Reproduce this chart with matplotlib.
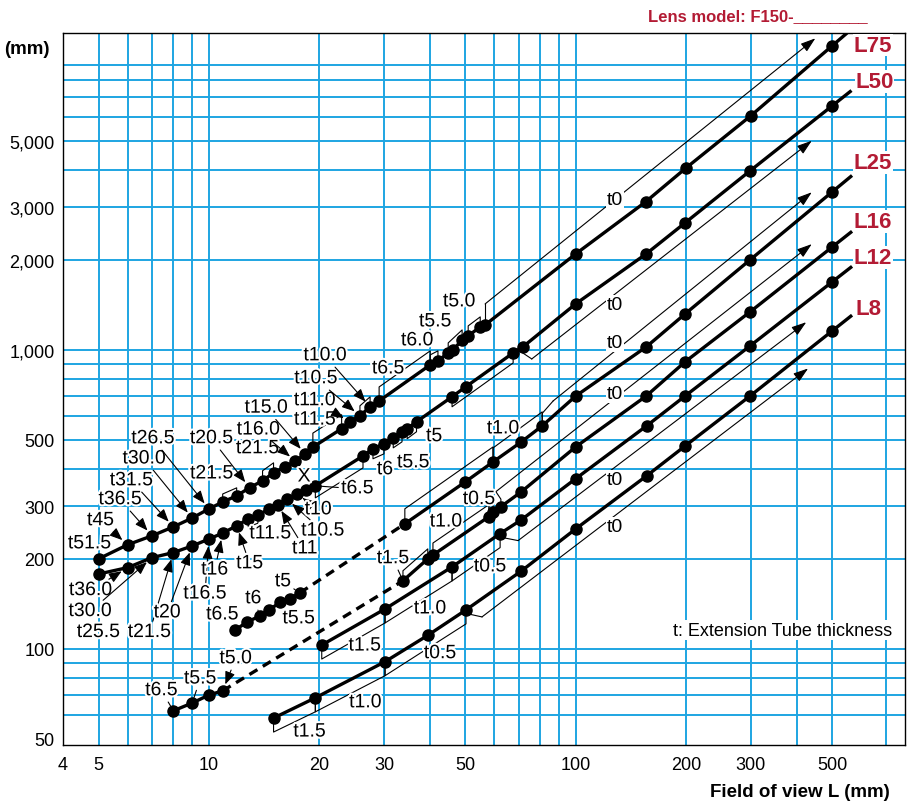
import numpy as np
import matplotlib
matplotlib.use('Agg')
import matplotlib.pyplot as plt
from matplotlib import patheffects as pe
from matplotlib.ticker import NullLocator

plt.rcParams['font.family'] = ['Liberation Sans', 'DejaVu Sans']

# ---- datos (campo de vision L, distancia de trabajo WD) ----
l75_x = [5, 6, 7, 8, 9, 10, 10.9, 11.9, 12.9, 14, 15, 16.1, 17.2, 18.3, 19.2, 23, 24.2, 25.8, 27.5, 29.1,
         40.1, 42.1, 44.9, 46.3, 49, 50.9, 54.9, 56.6, 100, 155, 200, 300, 500]
l75_y = [200, 223, 239, 256, 274, 294, 310, 325, 346, 365, 388, 406, 425, 448, 473, 545, 575, 602, 645, 675,
         891, 919, 977, 1000, 1080, 1114, 1194, 1212, 2095, 3126, 4064, 6067, 10400]

l50_x = [5, 6, 7, 8, 9, 10, 10.9, 11.9, 12.8, 13.6, 14.6, 15.4, 16.3, 17.4, 18.4, 19.5, 26.3, 28, 30, 31.8,
         33.6, 34.7, 36.8, 46, 50.1, 67.5, 71.7, 100, 155.6, 198.6, 298.6, 500]
l50_y = [178, 187, 202, 210, 221, 233, 244, 258, 272, 280, 294, 303, 317, 330, 340, 351, 442, 467, 485, 508,
         532, 545, 575, 697, 752, 977, 1023, 1426, 2095, 2660, 3970, 6550]

l25a_x = [11.8, 12.7, 13.8, 14.6, 15.6, 16.6, 17.7]
l25a_y = [115.7, 123, 129, 135, 143, 147, 154]
l25_x = [34.2, 50, 59.5, 71, 81, 100, 155.6, 198.6, 298.6, 500]
l25_y = [262, 362, 422, 492, 557, 701, 1023, 1319, 2000, 3375]

l16a_x = [8, 9, 10, 10.9]
l16a_y = [62.1, 65.9, 70.1, 72.4]
l16_x = [33.8, 39.5, 40.8, 58, 59.5, 62.5, 71, 100, 155.6, 198.6, 298.6, 500]
l16_y = [169, 200, 206, 277, 287, 299, 335, 474, 701, 912, 1340, 2208]

l12_x = [20.3, 30.2, 46, 62.2, 71, 100, 156, 198.6, 298.6, 500]
l12_y = [103, 136, 188, 243, 270, 371, 557, 701, 1031, 1688]

l8_x = [15, 19.5, 30.2, 39.5, 50.2, 71, 100, 156, 198.6, 298.6, 500]
l8_y = [58.7, 68.6, 90.6, 111, 135, 182, 252, 379, 477, 701, 1157]

lens_names = ['L75', 'L50', 'L25', 'L16', 'L12', 'L8']
line_end_x = [545, 560, 562, 562, 562, 562]

x_ticks = [4, 5, 10, 20, 30, 50, 100, 200, 300, 500]
y_ticks = [50, 100, 200, 300, 500, 1000, 2000, 3000, 5000]
x_grid = [5, 6, 7, 8, 9, 10, 20, 30, 40, 50, 60, 70, 80, 90, 100, 200, 300, 400, 500, 700]
y_grid = [60, 70, 80, 90, 100, 200, 300, 400, 500, 600, 700, 800, 900,
          1000, 2000, 3000, 4000, 5000, 6000, 7000, 8000, 9000]

ROJO = '#b31b34'
AZUL = '#1ea5e2'
FS = 14
halo = [pe.withStroke(linewidth=3, foreground='white')]

fig = plt.figure(figsize=(9.07, 8.04), dpi=100)
ax = fig.add_axes([63 / 907, 1 - 746 / 804, (905 - 63) / 907, (746 - 34) / 804])
ax.set_xscale('log')
ax.set_yscale('log')
ax.set_xlim(4, 790)
ax.set_ylim(47.7, 11480)

for g in x_grid:
    ax.axvline(g, color=AZUL, lw=1.4, zorder=1)
for g in y_grid:
    ax.axhline(g, color=AZUL, lw=1.4, zorder=1)

ax.xaxis.set_minor_locator(NullLocator())
ax.yaxis.set_minor_locator(NullLocator())
ax.set_xticks(x_ticks)
ax.set_xticklabels([str(v) for v in x_ticks])
ax.set_yticks(y_ticks)
ax.set_yticklabels([f'{v:,}' for v in y_ticks])
ax.tick_params(length=0, labelsize=13)
ax.tick_params(axis='x', pad=8)
ax.tick_params(axis='y', pad=6)
for s in ax.spines.values():
    s.set_linewidth(1.0)
    s.set_zorder(6)


def px(x, y):
    return ax.transData.transform((x, y))


def dat(p):
    return ax.transData.inverted().transform(p)


def curva(xs, ys):
    ax.plot(xs, ys, color='k', lw=2.4, zorder=4, solid_capstyle='butt')
    ax.plot(xs, ys, 'o', color='k', ms=8, zorder=5)


def extender(xs, ys, x_fin):
    k = np.log(ys[-1] / ys[-2]) / np.log(xs[-1] / xs[-2])
    y_fin = ys[-1] * (x_fin / xs[-1]) ** k
    ax.plot([xs[-1], x_fin], [ys[-1], y_fin], color='k', lw=2.4, zorder=4)
    return x_fin, y_fin


def discontinua(xa, ya, xb, yb):
    ax.plot([xa[-1], xb[0]], [ya[-1], yb[0]], color='k', lw=2.4, zorder=4,
            dashes=(2.8, 1.9))


def corchete(xs, ys, i, j, off):
    a = px(xs[i], ys[i])
    b = px(xs[j], ys[j])
    pts = dat(np.array([a, a + [0, off], b + [0, off], b]))
    ax.plot(pts[:, 0], pts[:, 1], color='k', lw=0.8, zorder=3)


def etiquetas(xs, ys, lista):
    for txt, i, dx, dy, tipo in lista:
        props = None
        if tipo == 'arrow':
            props = dict(arrowstyle='-|>,head_length=0.55,head_width=0.22', color='k', lw=0.8,
                         shrinkA=0, shrinkB=5)
        elif tipo == 'hook':
            props = dict(arrowstyle='-', color='k', lw=0.8, shrinkA=0, shrinkB=4)
        ax.annotate(txt, xy=(xs[i], ys[i]), xytext=(dx, dy), textcoords='offset pixels',
                    ha='center', va='center', fontsize=FS, zorder=7,
                    arrowprops=props, path_effects=halo)


def flecha_t0(xs, ys, i, ox, oy, x_end, nudge):
    a = px(xs[i], ys[i])
    last = px(xs[-1], ys[-1])
    bend = a + [ox, oy]
    mid = a + [0, oy / 2]
    slope = (last[1] - a[1]) / (last[0] - a[0])
    ex = px(x_end, 100)[0]
    end = np.array([ex, bend[1] + slope * (ex - bend[0])])
    pts = dat(np.array([a, mid, bend]))
    ax.plot(pts[:, 0], pts[:, 1], color='k', lw=0.8, zorder=3)
    ax.annotate('', xy=dat(end), xytext=dat(bend),
                arrowprops=dict(arrowstyle='-|>,head_length=0.9,head_width=0.3', color='k', lw=0.8,
                                shrinkA=0, shrinkB=0), zorder=3)
    lx = px(128, 100)[0]
    ly = bend[1] + slope * (lx - bend[0]) + nudge
    p = dat(np.array([lx, ly]))
    ax.text(p[0], p[1], 't0', ha='center', va='center', fontsize=FS, zorder=7,
            bbox=dict(fc='white', ec='none', pad=0.6))


# ---- L75 ----
curva(l75_x, l75_y)
fin75 = extender(l75_x, l75_y, line_end_x[0])
for c in [(6, 7, 8), (9, 10, 10), (14, 15, 14), (17, 18, 10), (19, 20, 14), (20, 21, 10),
          (22, 24, 10), (25, 26, 10)]:
    corchete(l75_x, l75_y, *c)
etiquetas(l75_x, l75_y, [
    ('t51.5', 0, -9, 15, 'plain'), ('t45', 1, -27, 24, 'arrow'), ('t36.5', 2, -32, 36, 'arrow'),
    ('t31.5', 3, -42, 46, 'arrow'), ('t30.0', 4, -48, 59, 'arrow'), ('t26.5', 5, -56, 70, 'arrow'),
    ('t21.5', 6, -11, 28, 'plain'), ('t20.5', 8, -38, 49, 'arrow'), ('t21.5', 9, -5, 32, 'plain'),
    ('t16.0', 12, -37, 31, 'arrow'), ('t15.0', 13, -39, 46, 'arrow'), ('t11.5', 14, 2, 27, 'plain'),
    ('t11.0', 16, -35, 21, 'arrow'), ('t10.5', 17, -44, 37, 'arrow'), ('t10.0', 18, -45, 51, 'arrow'),
    ('t6.5', 19, 9, 32, 'plain'), ('t6.0', 20, -13, 24, 'plain'), ('t5.5', 22, -13, 31, 'plain'),
    ('t5.0', 25, -9, 34, 'plain')])
flecha_t0(l75_x, l75_y, 27, 0, 21, 450, 0)

# ---- L50 ----
curva(l50_x, l50_y)
fin50 = extender(l50_x, l50_y, line_end_x[1])
for c in [(8, 9, -8), (15, 16, -12), (17, 18, -10), (19, 20, -10), (21, 22, -10), (23, 25, -10)]:
    corchete(l50_x, l50_y, *c)
etiquetas(l50_x, l50_y, [
    ('t36.0', 1, -37, -23, 'arrow'), ('t30.0', 2, -62, -54, 'arrow'), ('t25.5', 3, -75, -80, 'plain'),
    ('t21.5', 3, -24, -80, 'arrow'), ('t20', 4, -25, -67, 'arrow'), ('t16.5', 5, -4, -55, 'arrow'),
    ('t16', 6, -8, -37, 'arrow'), ('t15', 7, 13, -38, 'arrow'), ('t11.5', 8, 22, -15, 'plain'),
    ('t11', 11, 27, -44, 'arrow'), ('t10.5', 12, 36, -32, 'arrow'), ('t10', 13, 21, -16, 'arrow'),
    ('X', 14, -2, 13, 'plain'), ('t6.5', 15, 42, -3, 'hook'), ('t6', 17, 12, -21, 'plain'),
    ('t5.5', 19, 20, -25, 'plain'), ('t5', 21, 27, -8, 'plain')])
flecha_t0(l50_x, l50_y, 26, 9, -12, 440, -10)

# ---- L25 ----
curva(l25a_x, l25a_y)
curva(l25_x, l25_y)
discontinua(l25a_x, l25a_y, l25_x, l25_y)
fin25 = extender(l25_x, l25_y, line_end_x[2])
etiquetas(l25a_x, l25a_y, [('t6.5', 0, -13, 15, 'hook'), ('t6', 2, -7, 17, 'hook'),
                           ('t5.5', 5, 9, -20, 'plain'), ('t5', 6, -17, 11, 'hook')])
corchete(l25_x, l25_y, 0, 2, 15)
corchete(l25_x, l25_y, 2, 4, 14)
etiquetas(l25_x, l25_y, [('t1.0', 2, 10, 33, 'plain')])
flecha_t0(l25_x, l25_y, 4, 11, 25, 440, 8)

# ---- L16 ----
curva(l16a_x, l16a_y)
curva(l16_x, l16_y)
discontinua(l16a_x, l16a_y, l16_x, l16_y)
fin16 = extender(l16_x, l16_y, line_end_x[3])
etiquetas(l16a_x, l16a_y, [('t6.5', 0, -12, 20, 'hook'), ('t5.5', 1, 8, 24, 'hook'),
                           ('t5.0', 3, 13, 32, 'arrow')])
for c in [(0, 1, 10), (2, 3, 12), (3, 4, 10)]:
    corchete(l16_x, l16_y, *c)
etiquetas(l16_x, l16_y, [('t1.5', 0, -10, 22, 'hook'), ('t1.0', 2, 13, 33, 'plain'),
                         ('t0.5', 3, -10, 17, 'plain')])
flecha_t0(l16_x, l16_y, 5, -5, 15, 440, 5)

# ---- L12 ----
curva(l12_x, l12_y)
fin12 = extender(l12_x, l12_y, line_end_x[4])
for c in [(0, 1, -14), (1, 2, -14), (2, 3, -14)]:
    corchete(l12_x, l12_y, *c)
etiquetas(l12_x, l12_y, [('t1.5', 0, 43, -1, 'plain'), ('t1.0', 1, 45, 0, 'plain'),
                         ('t0.5', 2, 38, 0, 'plain')])
flecha_t0(l12_x, l12_y, 3, 18, -7, 425, -12)

# ---- L8 ----
curva(l8_x, l8_y)
fin8 = extender(l8_x, l8_y, line_end_x[5])
for c in [(0, 1, -14), (1, 2, -14), (2, 4, -14)]:
    corchete(l8_x, l8_y, *c)
etiquetas(l8_x, l8_y, [('t1.5', 0, 36, -14, 'plain'), ('t1.0', 1, 50, -5, 'plain'),
                       ('t0.5', 2, 55, 8, 'plain')])
flecha_t0(l8_x, l8_y, 4, 16, -7, 430, -11)

# nombres de lentes
offs = [(8, -11), (5, 10), (3, 14), (3, 11), (3, 10), (5, 8)]
for nombre, fin, o in zip(lens_names, [fin75, fin50, fin25, fin16, fin12, fin8], offs):
    ax.annotate(nombre, xy=fin, xytext=o, textcoords='offset pixels', ha='left', va='center',
                color=ROJO, fontsize=16, fontweight='bold', zorder=7,
                bbox=dict(fc='white', ec='none', pad=0.5))

ax.text(0.855, 0.1615, 't: Extension Tube thickness', transform=ax.transAxes, ha='center',
        va='center', fontsize=13, zorder=7, bbox=dict(fc='white', ec='none', pad=1.0))

fig.text(27 / 907, 1 - 49 / 804, '(mm)', ha='center', va='center', fontsize=13.5, fontweight='bold')
fig.text(890 / 907, 1 - 793 / 804, 'Field of view L (mm)', ha='right', va='center',
         fontsize=13.5, fontweight='bold')
fig.text(648 / 907, 1 - 17 / 804, 'Lens model: F150-________', ha='left', va='center',
         fontsize=12, fontweight='bold', color=ROJO)

fig.savefig('out.png', dpi=100)
